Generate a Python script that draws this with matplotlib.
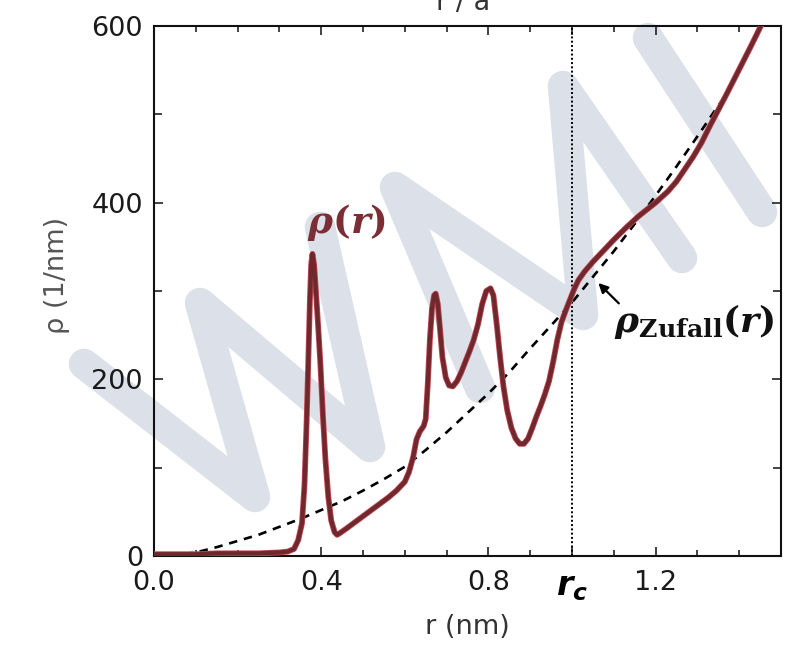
import matplotlib
matplotlib.use("Agg")
import matplotlib.pyplot as plt
import matplotlib.patheffects as pe
from matplotlib.lines import Line2D
from matplotlib.ticker import FixedLocator


# rho(r)
r_vals = [0.0, 0.05, 0.1, 0.15, 0.2, 0.25, 0.3, 0.32, 0.335, 0.345, 0.354,
          0.36, 0.365, 0.369, 0.373, 0.376, 0.379, 0.383, 0.388, 0.393,
          0.398, 0.404, 0.41, 0.417, 0.424, 0.432, 0.438, 0.445, 0.46, 0.48,
          0.5, 0.52, 0.54, 0.56, 0.58, 0.6, 0.61, 0.62, 0.628, 0.636, 0.645,
          0.65, 0.655, 0.66, 0.665, 0.67, 0.674, 0.679, 0.684, 0.69, 0.698,
          0.706, 0.715, 0.725, 0.735, 0.745, 0.755, 0.765, 0.775, 0.785,
          0.795, 0.805, 0.812, 0.82, 0.828, 0.836, 0.845, 0.855, 0.865,
          0.875, 0.885, 0.895, 0.905, 0.915, 0.925, 0.935, 0.945, 0.955,
          0.965, 0.975, 0.985, 0.995, 1.005, 1.015, 1.03, 1.05, 1.07, 1.1,
          1.13, 1.16, 1.2, 1.23, 1.25, 1.27, 1.29, 1.31, 1.33, 1.35, 1.37,
          1.4, 1.43, 1.46, 1.49]
rho_vals = [2, 2, 2, 3, 3, 3, 4, 5, 8, 18, 37,
            80, 150, 218, 290, 330, 342, 330, 295, 258,
            218, 160, 110, 67, 40, 27, 24, 26, 31, 38,
            45, 52, 59, 66, 74, 84, 95, 112, 132, 141, 147,
            155, 195, 245, 280, 295, 297, 285, 258, 225, 202,
            193, 192, 198, 208, 220, 232, 245, 262, 285,
            300, 303, 295, 262, 225, 192, 165, 145, 133,
            127, 127, 133, 145, 158, 170, 183, 198, 220,
            245, 265, 278, 290, 302, 312, 322, 333, 343, 358,
            372, 385, 400, 413, 424, 438, 452, 468, 487, 505, 523,
            551, 579, 608, 637]

# random-distribution reference (dashed)
r_rand = [0.0, 0.05, 0.1, 0.15, 0.2, 0.25, 0.3, 0.35, 0.4, 0.45, 0.5, 0.55,
          0.6, 0.65, 0.7, 0.75, 0.8, 0.85, 0.9, 0.95, 1.0, 1.05, 1.1, 1.15,
          1.2, 1.25, 1.3, 1.35, 1.37]
rho_rand = [0, 1, 4, 10, 17, 24, 33, 42, 52, 62, 74, 87,
            101, 120, 140, 162, 184, 208, 235, 261, 287, 316, 345, 376,
            408, 441, 475, 510, 522]

r_c = 1.0
xtick_pos = [0.0, 0.4, 0.8, r_c, 1.2]
xtick_lab = ["0.0", "0.4", "0.8", r"$\mathbfit{r}_{\mathbfit{c}}$", "1.2"]
ytick_pos = [0, 200, 400, 600]

FONT = "DejaVu Sans"
FS = 19.5

W, H = 793, 645
fig = plt.figure(figsize=(W / 100, H / 100), dpi=100)
ax = fig.add_axes([154 / W, 1 - 556 / H, (781 - 154) / W, (556 - 26) / H])
ax.patch.set_alpha(0)

# WMI watermark behind everything (pixel coords of the stroke centre lines)
wm = [
    [(84, 364), (255, 497), (200, 303), (370, 447), (320, 227)],
    [(480, 388), (395, 187), (583, 315), (563, 86), (682, 258)],
    [(648, 38), (762, 212)],
]
for pts in wm:
    xs = [p[0] / W for p in pts]
    ys = [1 - p[1] / H for p in pts]
    fig.add_artist(Line2D(xs, ys, transform=fig.transFigure, color="#dce1e9",
                          lw=22, solid_capstyle="round",
                          solid_joinstyle="round", zorder=-5))

ax.plot(r_rand, rho_rand, color="black", lw=1.9, dashes=(3.2, 2.6), zorder=3)
ax.axvline(r_c, color="black", lw=1.4, ls=(0, (1, 1.2)), zorder=2)
ax.plot(r_vals, rho_vals, color="#70282f", lw=3.0, solid_joinstyle="round",
        zorder=4,
        path_effects=[pe.Stroke(linewidth=4.2, foreground="#c0474f"),
                      pe.Normal()])

ax.set_xlim(0, 1.5)
ax.set_ylim(0, 600)

ax.xaxis.set_major_locator(FixedLocator(xtick_pos))
ax.xaxis.set_minor_locator(FixedLocator([i / 10 for i in range(16)]))
ax.set_xticklabels(xtick_lab)
ax.yaxis.set_major_locator(FixedLocator(ytick_pos))
ax.yaxis.set_minor_locator(FixedLocator([100, 300, 500]))

for lab in ax.get_xticklabels() + ax.get_yticklabels():
    lab.set_family(FONT)
    lab.set_fontsize(FS)
    lab.set_color("#1a1a1a")
rc_lab = ax.get_xticklabels()[3]
rc_lab.set_math_fontfamily("dejavusans")
rc_lab.set_fontsize(24)
rc_lab.set_color("black")

ax.tick_params(which="both", direction="in", top=True, right=True,
               width=1.2, color="#222222")
ax.tick_params(which="major", length=6.5, pad=8)
ax.tick_params(axis="x", which="major", pad=10)
ax.tick_params(axis="x", which="minor", length=4)
ax.tick_params(axis="y", which="minor", length=6)
for s in ax.spines.values():
    s.set_linewidth(1.5)
    s.set_color("#111111")

ax.set_xlabel("r (nm)", family=FONT, fontsize=FS, color="#333333",
              labelpad=8)
ax.set_ylabel("\u03c1 (1/nm)", family=FONT, fontsize=FS, color="#555555")
ax.yaxis.set_label_coords(-0.134, 0.53)
fig.text(463 / W, 1 - 10 / H, "r / a", family=FONT, fontsize=FS,
         color="#333333", ha="center", va="baseline")

ax.text(0.46, 378, r"$\mathbfit{\rho}\mathbf{(}\mathbfit{r}\mathbf{)}$",
        math_fontfamily="dejavuserif", fontsize=27, color="#7b2e35",
        ha="center", va="center", zorder=5)
ax.text(1.292, 265,
        r"$\mathbfit{\rho}_{\mathbf{Zufall}}\mathbf{(}\mathbfit{r}\mathbf{)}$",
        math_fontfamily="dejavuserif", fontsize=26, color="#111111",
        ha="center", va="center", zorder=5)
ax.annotate("", xy=(1.063, 309), xytext=(1.112, 286),
            arrowprops=dict(arrowstyle="-|>", color="black", lw=1.6,
                            mutation_scale=14, shrinkA=0, shrinkB=0),
            zorder=5)

fig.savefig("out.png", dpi=100, facecolor="white")
